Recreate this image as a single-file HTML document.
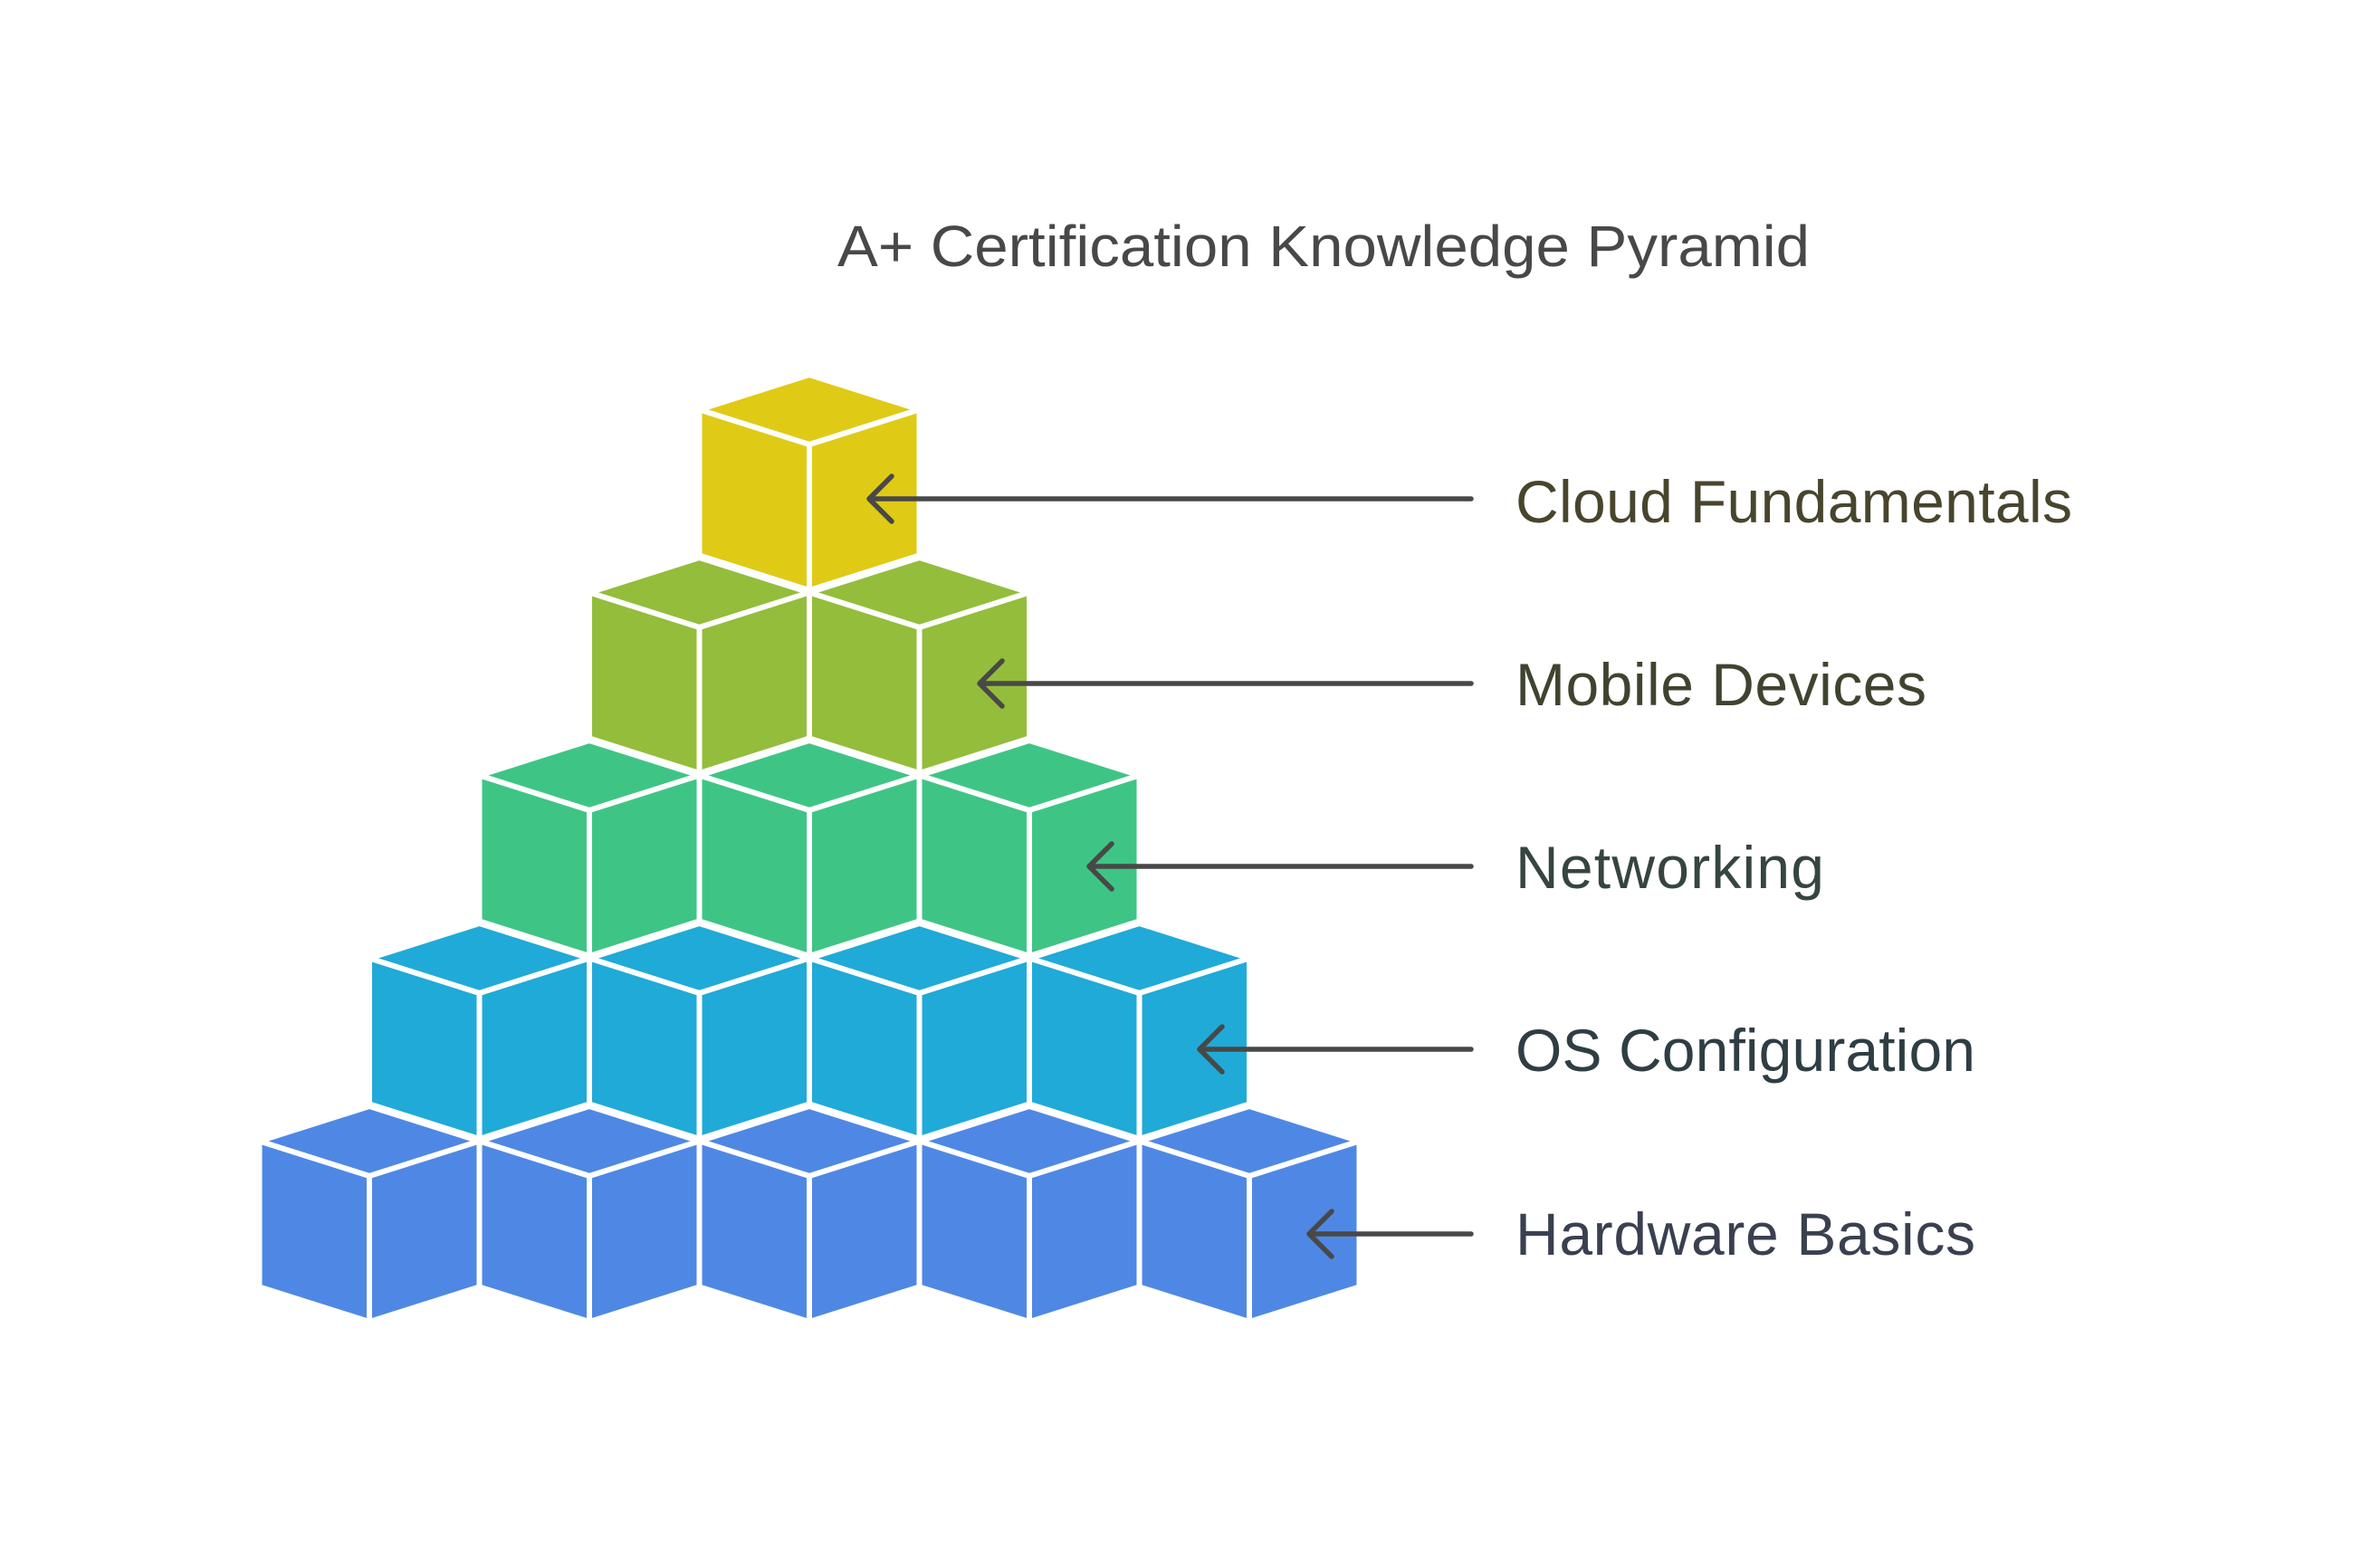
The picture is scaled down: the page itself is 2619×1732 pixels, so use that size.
<!DOCTYPE html>
<html><head><meta charset="utf-8"><style>html,body{margin:0;padding:0;background:#fff}svg{display:block}</style></head>
<body>
<svg width="2619" height="1732" viewBox="0 0 2619 1732" xmlns="http://www.w3.org/2000/svg">
<defs>
<g id="cube" stroke="#fff" stroke-width="6" stroke-linejoin="round">
<polygon points="0,0 121.5,38.5 0,77 -121.5,38.5"/>
<polygon points="-121.5,38.5 0,77 0,238 -121.5,199.5"/>
<polygon points="121.5,38.5 0,77 0,238 121.5,199.5"/>
</g>
</defs>
<rect width="2619" height="1732" fill="#fff"/>
<text x="925" y="294" font-family="Liberation Sans, sans-serif" font-size="64" fill="#484848" textLength="1074" lengthAdjust="spacingAndGlyphs">A+ Certification Knowledge Pyramid</text>
<g fill="#DFCB15"><use href="#cube" x="894" y="414"/></g>
<g fill="#93BD3B"><use href="#cube" x="772.5" y="616"/><use href="#cube" x="1015.5" y="616"/></g>
<g fill="#3EC585"><use href="#cube" x="651" y="818"/><use href="#cube" x="894" y="818"/><use href="#cube" x="1137" y="818"/></g>
<g fill="#20AAD8"><use href="#cube" x="529.5" y="1020"/><use href="#cube" x="772.5" y="1020"/><use href="#cube" x="1015.5" y="1020"/><use href="#cube" x="1258.5" y="1020"/></g>
<g fill="#4F88E4"><use href="#cube" x="408" y="1222"/><use href="#cube" x="651" y="1222"/><use href="#cube" x="894" y="1222"/><use href="#cube" x="1137" y="1222"/><use href="#cube" x="1380" y="1222"/></g>
<g stroke="#484848" stroke-width="5.5" fill="none" stroke-linecap="round" stroke-linejoin="round">
<path d="M1625 551 H961 M985 526 L960 551 L985 576"/>
<path d="M1625 755 H1083 M1107 730 L1082 755 L1107 780"/>
<path d="M1625 957 H1204 M1228 932 L1203 957 L1228 982"/>
<path d="M1625 1159 H1326 M1350 1134 L1325 1159 L1350 1184"/>
<path d="M1625 1363 H1447 M1471 1338 L1446 1363 L1471 1388"/>
</g>
<g font-family="Liberation Sans, sans-serif" font-size="66" lengthAdjust="spacingAndGlyphs">
<text x="1674" y="577" fill="#48452D" textLength="615">Cloud Fundamentals</text>
<text x="1674" y="779" fill="#3F4430" textLength="454">Mobile Devices</text>
<text x="1674" y="981" fill="#36453F" textLength="341">Networking</text>
<text x="1674" y="1183" fill="#2F3D44" textLength="508">OS Configuration</text>
<text x="1674" y="1386" fill="#3A4050" textLength="508">Hardware Basics</text>
</g>
</svg>
</body></html>
